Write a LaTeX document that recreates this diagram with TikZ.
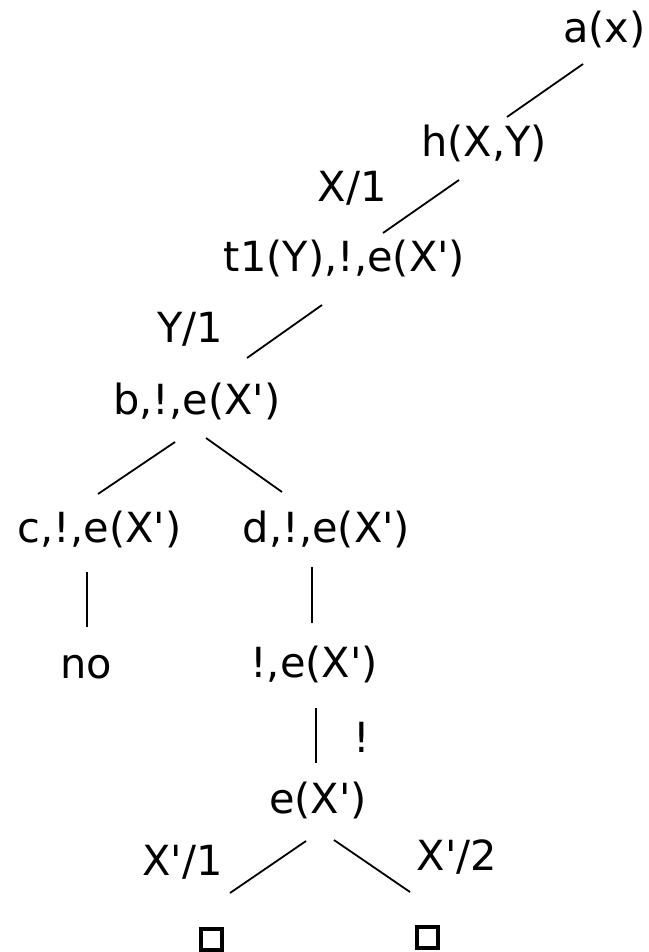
\documentclass[tikz,border=0pt]{standalone}
\usepackage{fontspec}
\setmainfont{DejaVu Sans}
\usetikzlibrary{positioning}
\newcommand{\pr}{\textquotesingle}

\begin{document}
\begin{tikzpicture}[
      x=0.5pt,y=-0.5pt,
      n/.style={anchor=base,inner sep=0pt,font=\fontsize{20.75}{24}\selectfont},
      leaf/.style={draw,line width=2pt,minimum size=10.5pt,inner sep=0pt},
      every path/.style={line width=0.9pt}
    ]
      \useasboundingbox (0,0) rectangle (648,952);
      % goals
      \node[n] (a) at (604.5,43) {a(x)};
      \node[n] (h) at (484,157) {h(X,Y)};
      \node[n] (t1) at (344.5,271) {t1(Y),!,e(X\pr)};
      \node[n] (b) at (197,414) {b,!,e(X\pr)};
      \node[n] (c) at (99.5,542) {c,!,e(X\pr)};
      \node[n] (d) at (326.5,542) {d,!,e(X\pr)};
      \node[n] (no) at (86,678) {no};
      \node[n] (cut) at (314,677) {!,e(X\pr)};
      \node[n] (e) at (318,813) {e(X\pr)};
      \node[leaf] (ok1) at (211,939) {};
      \node[leaf] (ok2) at (427.5,937) {};
      % substitutions
      \node[n] (lx) at (352,202) {X/1};
      \node[n] (ly) at (190,342) {Y/1};
      \node[n] (lcut) at (362,752) {!};
      \node[n] (lx1) at (182.5,875) {X\pr/1};
      \node[n] (lx2) at (457,870) {X\pr/2};
      % branches
      \draw ([shift={(-21.5,21)}]a.base) -- ([shift={(23,-40)}]h.base);
      \draw ([shift={(-25,23)}]h.base) -- ([shift={(38.5,-38)}]t1.base);
      \draw ([shift={(-22.5,34)}]t1.base) -- ([shift={(50,-56)}]b.base);
      \draw ([shift={(-22,28)}]b.base) -- ([shift={(-1.5,-48)}]c.base);
      \draw ([shift={(9,24)}]b.base) -- ([shift={(-44.5,-50)}]d.base);
      \draw ([shift={(-12.5,30)}]c.base) -- ([shift={(1,-51)}]no.base);
      \draw ([shift={(-14.5,25)}]d.base) -- ([shift={(-2,-54)}]cut.base);
      \draw ([shift={(2,31)}]cut.base) -- ([shift={(-2,-50)}]e.base);
      \draw ([shift={(-12,28)}]e.base) -- ([shift={(19,-46)}]ok1.center);
      \draw ([shift={(16,27)}]e.base) -- ([shift={(-17.5,-45)}]ok2.center);
    \end{tikzpicture}
\end{document}
